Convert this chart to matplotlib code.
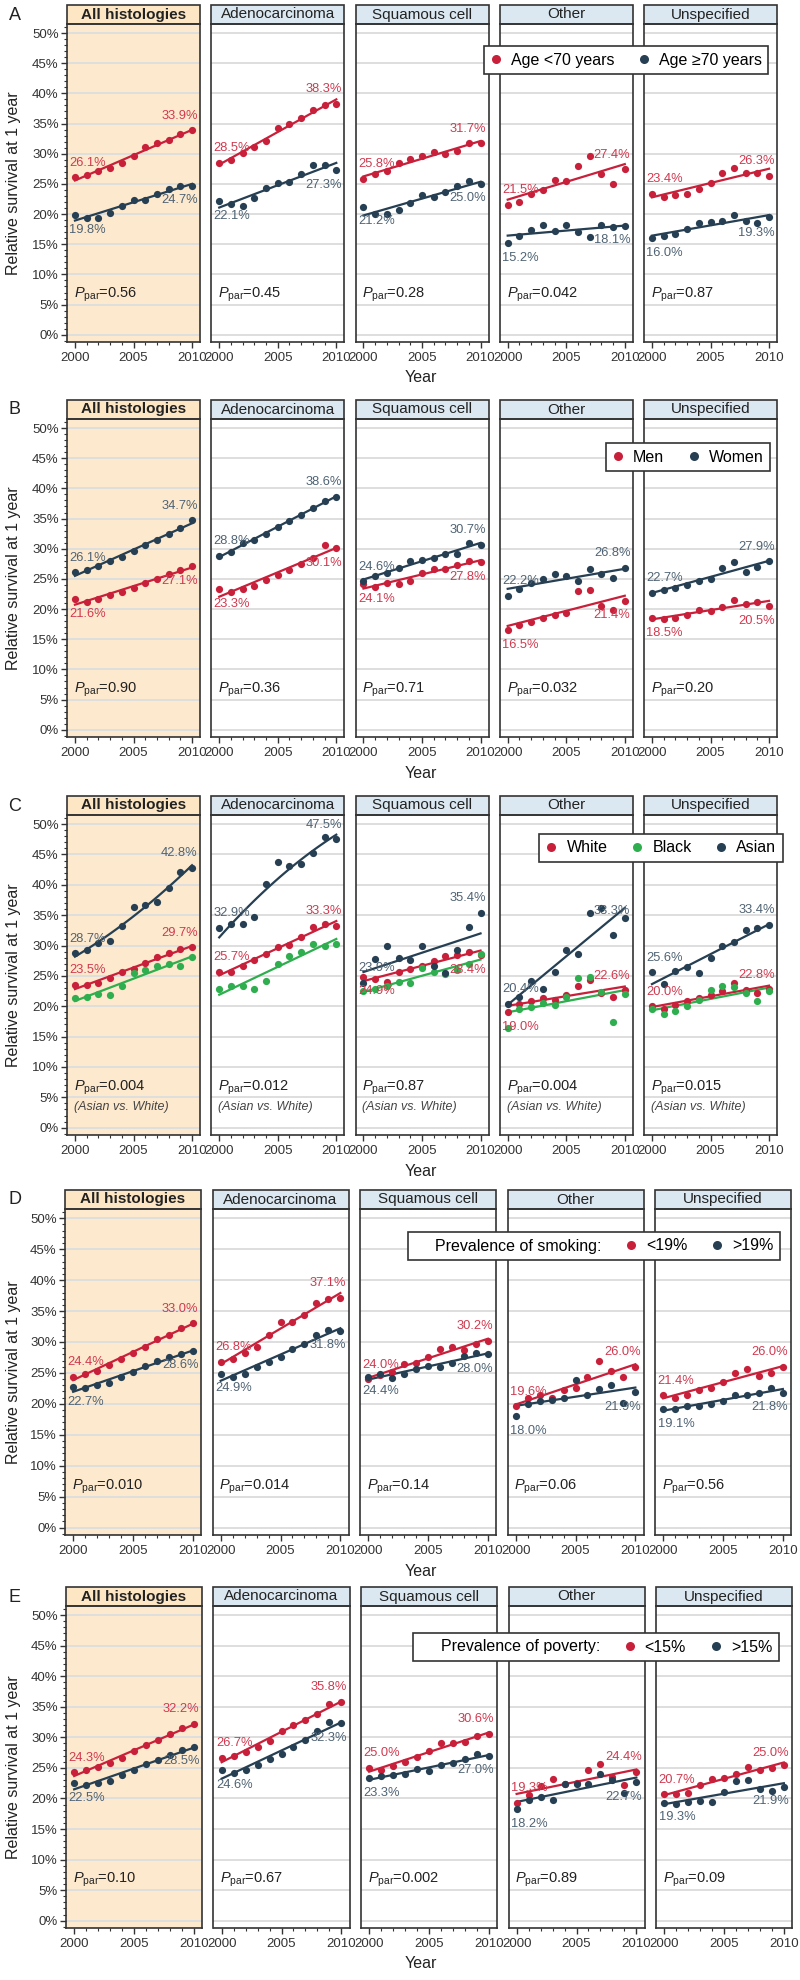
import numpy as np
import matplotlib.pyplot as plt
from matplotlib.patches import Rectangle
from matplotlib.lines import Line2D
from matplotlib.ticker import MultipleLocator

plt.rcParams['font.family'] = ['Liberation Sans', 'DejaVu Sans']
plt.rcParams['mathtext.fontset'] = 'custom'
plt.rcParams['mathtext.rm'] = 'Liberation Sans'
plt.rcParams['mathtext.it'] = 'Liberation Sans:italic'

# ---------------- data ----------------
years = list(range(2000, 2011))
histologies = ["All histologies", "Adenocarcinoma", "Squamous cell", "Other", "Unspecified"]
yticks = [0, 5, 10, 15, 20, 25, 30, 35, 40, 45, 50]
xticks = [2000, 2005, 2010]

# A: age
age_under70 = [
    [26.1, 26.4, 27.1, 27.6, 28.5, 29.6, 31.1, 31.7, 32.2, 33.2, 33.9],
    [28.5, 29.0, 30.2, 31.1, 32.1, 34.2, 35.0, 35.9, 37.2, 38.1, 38.3],
    [25.8, 26.6, 27.1, 28.4, 29.2, 29.6, 30.3, 30.0, 30.4, 31.8, 31.7],
    [21.5, 22.0, 23.4, 24.0, 25.7, 25.4, 28.0, 29.7, 26.6, 25.0, 27.4],
    [23.4, 22.9, 23.2, 23.4, 24.2, 25.1, 26.8, 27.7, 26.8, 26.8, 26.3],
]
age_70plus = [
    [19.8, 19.4, 19.4, 20.2, 21.4, 22.3, 22.3, 23.3, 24.2, 24.6, 24.7],
    [22.1, 21.6, 21.4, 22.6, 24.3, 25.1, 25.3, 26.6, 28.2, 28.1, 27.3],
    [21.2, 20.0, 20.0, 20.6, 21.8, 23.2, 22.8, 23.6, 24.6, 25.4, 25.0],
    [15.2, 16.4, 17.4, 18.2, 17.2, 18.2, 17.0, 16.2, 18.2, 17.8, 18.1],
    [16.0, 16.4, 16.7, 17.5, 18.5, 18.7, 18.9, 19.8, 18.9, 18.5, 19.5],
]
age_under70_lab = [(26.1, 33.9), (28.5, 38.3), (25.8, 31.7), (21.5, 27.4), (23.4, 26.3)]
age_70plus_lab = [(19.8, 24.7), (22.1, 27.3), (21.2, 25.0), (15.2, 18.1), (16.0, 19.3)]
p_age = ["0.56", "0.45", "0.28", "0.042", "0.87"]

# B: sex
men = [
    [21.6, 21.2, 21.7, 22.3, 22.9, 23.5, 24.3, 25.0, 25.8, 26.5, 27.1],
    [23.3, 22.8, 23.4, 23.9, 24.9, 25.6, 26.5, 27.5, 28.4, 30.6, 30.1],
    [24.1, 23.6, 24.3, 24.2, 24.7, 26.0, 26.6, 26.7, 27.3, 27.9, 27.8],
    [16.5, 17.4, 17.9, 18.6, 19.1, 19.4, 23.0, 23.2, 20.5, 19.8, 21.4],
    [18.5, 18.3, 18.6, 19.0, 19.8, 19.6, 20.3, 21.5, 20.8, 21.2, 20.5],
]
women = [
    [26.1, 26.4, 27.2, 28.0, 28.6, 29.6, 30.6, 31.4, 32.4, 33.5, 34.7],
    [28.8, 29.5, 30.9, 31.4, 32.5, 33.6, 34.6, 35.6, 36.8, 37.9, 38.6],
    [24.6, 25.5, 26.0, 26.8, 28.0, 28.1, 28.4, 29.1, 29.2, 30.9, 30.7],
    [22.2, 23.3, 24.4, 25.0, 25.8, 25.5, 24.7, 26.6, 25.8, 25.1, 26.8],
    [22.7, 23.2, 23.5, 24.0, 24.7, 25.0, 26.8, 27.8, 26.2, 26.9, 27.9],
]
men_lab = [(21.6, 27.1), (23.3, 30.1), (24.1, 27.8), (16.5, 21.4), (18.5, 20.5)]
women_lab = [(26.1, 34.7), (28.8, 38.6), (24.6, 30.7), (22.2, 26.8), (22.7, 27.9)]
p_sex = ["0.90", "0.36", "0.71", "0.032", "0.20"]

# C: race
white = [
    [23.5, 23.5, 23.8, 24.6, 25.6, 26.1, 27.1, 28.1, 28.8, 29.4, 29.7],
    [25.7, 25.6, 26.6, 27.6, 28.6, 29.7, 30.1, 31.4, 33.0, 33.6, 33.3],
    [24.9, 24.5, 24.0, 25.6, 26.1, 26.7, 27.5, 28.2, 28.5, 28.9, 28.4],
    [19.0, 20.4, 20.8, 21.3, 21.0, 21.8, 23.4, 24.3, 22.2, 21.5, 22.6],
    [20.0, 19.6, 20.2, 20.9, 21.4, 21.9, 22.5, 23.9, 22.6, 22.2, 22.8],
]
black = [
    [21.4, 21.5, 22.1, 21.9, 23.4, 25.4, 25.9, 26.7, 27.0, 26.6, 28.1],
    [22.8, 23.4, 23.4, 22.9, 24.1, 26.9, 28.3, 29.0, 30.3, 30.0, 30.3],
    [22.5, 22.9, 23.3, 24.0, 23.9, 26.3, 25.7, 25.3, 25.9, 26.9, 28.6],
    [16.4, 19.5, 19.8, 20.6, 20.2, 21.5, 24.6, 24.9, 22.3, 17.4, 22.0],
    [19.5, 18.7, 19.3, 20.0, 21.0, 22.7, 23.3, 23.2, 22.2, 20.9, 22.5],
]
asian = [
    [28.7, 29.2, 30.4, 30.8, 33.2, 36.4, 36.6, 37.2, 39.5, 42.1, 42.8],
    [32.9, 33.5, 33.5, 34.7, 40.1, 43.8, 43.1, 43.4, 45.3, 47.8, 47.5],
    [23.9, 27.8, 30.0, 28.0, 27.6, 30.0, 26.6, 25.5, 29.2, 33.0, 35.4],
    [20.4, 21.6, 24.2, 22.8, 25.7, 29.3, 28.6, 35.4, 36.2, 31.7, 34.6],
    [25.6, 23.7, 25.8, 26.5, 25.5, 28.0, 29.9, 30.6, 32.5, 32.9, 33.4],
]
white_lab = [(23.5, 29.7), (25.7, 33.3), (24.9, 28.4), (19.0, 22.6), (20.0, 22.8)]
asian_lab = [(28.7, 42.8), (32.9, 47.5), (23.9, 35.4), (20.4, 33.3), (25.6, 33.4)]
p_race = ["0.004", "0.012", "0.87", "0.004", "0.015"]

# D: smoking prevalence
smoke_low = [
    [24.4, 24.8, 25.3, 26.3, 27.3, 28.3, 29.2, 30.5, 31.1, 32.2, 33.0],
    [26.8, 27.3, 28.3, 29.2, 31.1, 33.2, 33.2, 34.3, 36.3, 37.0, 37.1],
    [24.0, 24.6, 25.2, 26.5, 26.6, 27.5, 28.8, 29.2, 28.7, 29.7, 30.2],
    [19.6, 20.9, 21.4, 21.0, 22.2, 22.6, 24.3, 26.9, 25.3, 24.4, 26.0],
    [21.4, 21.0, 21.5, 22.3, 22.6, 23.5, 25.0, 25.7, 24.5, 25.0, 26.0],
]
smoke_high = [
    [22.7, 22.6, 23.0, 23.3, 24.4, 25.1, 26.1, 26.9, 27.5, 28.0, 28.6],
    [24.9, 24.4, 24.8, 25.9, 26.7, 27.6, 28.8, 29.7, 31.2, 31.9, 31.8],
    [24.4, 24.8, 24.1, 24.9, 25.6, 26.1, 26.0, 26.6, 27.7, 28.3, 28.0],
    [18.0, 19.9, 20.4, 20.6, 21.0, 23.9, 21.4, 22.4, 23.0, 20.2, 21.9],
    [19.1, 19.2, 19.6, 19.6, 20.0, 20.5, 21.5, 21.5, 21.8, 22.5, 21.8],
]
smoke_low_lab = [(24.4, 33.0), (26.8, 37.1), (24.0, 30.2), (19.6, 26.0), (21.4, 26.0)]
smoke_high_lab = [(22.7, 28.6), (24.9, 31.8), (24.4, 28.0), (18.0, 21.9), (19.1, 21.8)]
p_smoke = ["0.010", "0.014", "0.14", "0.06", "0.56"]

# E: poverty prevalence
pov_low = [
    [24.3, 24.6, 25.2, 25.8, 26.6, 27.8, 28.7, 29.5, 30.6, 31.5, 32.2],
    [26.7, 27.0, 27.6, 28.4, 29.4, 31.0, 32.0, 32.8, 33.9, 35.4, 35.8],
    [25.0, 24.6, 25.3, 26.0, 26.8, 27.7, 29.0, 29.1, 29.2, 30.2, 30.6],
    [19.3, 20.5, 22.0, 23.2, 22.3, 22.5, 24.7, 25.6, 23.5, 22.2, 24.4],
    [20.7, 20.7, 20.9, 22.2, 23.2, 23.4, 24.0, 25.2, 24.7, 25.0, 25.4],
]
pov_high = [
    [22.5, 22.2, 22.6, 22.8, 23.8, 24.7, 25.6, 26.3, 27.1, 27.9, 28.5],
    [24.6, 24.1, 24.6, 25.5, 26.4, 27.3, 28.5, 29.6, 31.0, 32.5, 32.3],
    [23.3, 23.6, 23.9, 24.0, 24.8, 24.5, 25.4, 25.8, 26.4, 27.2, 27.0],
    [18.2, 19.7, 20.3, 19.8, 22.3, 22.4, 22.4, 24.0, 23.0, 20.9, 22.7],
    [19.3, 19.1, 19.5, 19.6, 19.5, 21.0, 22.9, 23.1, 21.5, 21.2, 21.9],
]
pov_low_lab = [(24.3, 32.2), (26.7, 35.8), (25.0, 30.6), (19.3, 24.4), (20.7, 25.0)]
pov_high_lab = [(22.5, 28.5), (24.6, 32.3), (23.3, 27.0), (18.2, 22.7), (19.3, 21.9)]
p_pov = ["0.10", "0.67", "0.002", "0.89", "0.09"]

# ---------------- style ----------------
RED, NAVY, GREEN = '#c8203a', '#263f53', '#2eae4e'
RED_T, NAVY_T = '#d03a50', '#4f6374'
HEAD_BLUE, HEAD_ORANGE, BG_ORANGE = '#dbe8f1', '#fde6c4', '#fde9cd'
EDGE = '#333333'

W_PX, H_PX = 800, 1980
fig = plt.figure(figsize=(W_PX / 100, H_PX / 100), dpi=100)


def fx(x):
    return x / W_PX


def fy(y):
    return 1 - y / H_PX


# series: (values, labels, color, text color, label placement per panel, fit degree per panel)
rows = [
    dict(letter="A", top=5, bottom=342, left=67, width=133, gap=11.25, p=p_age,
         series=[(age_under70, age_under70_lab, RED, RED_T, ["aa"] * 5, [1] * 5),
                 (age_70plus, age_70plus_lab, NAVY, NAVY_T, ["bb"] * 5, [1] * 5)],
         legend=(["Age <70 years", "Age \u226570 years"], [RED, NAVY], None, (626, 60))),
    dict(letter="B", top=400, bottom=737, left=67, width=133, gap=11.25, p=p_sex,
         series=[(men, men_lab, RED, RED_T, ["bb"] * 5, [1] * 5),
                 (women, women_lab, NAVY, NAVY_T, ["aa"] * 5, [1] * 5)],
         legend=(["Men", "Women"], [RED, NAVY], None, (688, 457))),
    dict(letter="C", top=796, bottom=1135, left=67, width=133, gap=11.25, p=p_race,
         series=[(white, white_lab, RED, RED_T, ["aa", "aa", "bb", "ba", "aa"], [1] * 5),
                 (black, None, GREEN, None, None, [1] * 5),
                 (asian, asian_lab, NAVY, NAVY_T, ["aa"] * 5, [2, 2, 1, 1, 1])],
         legend=(["White", "Black", "Asian"], [RED, GREEN, NAVY], None, (661, 848))),
    dict(letter="D", top=1190, bottom=1535, left=65, width=136, gap=11.5, p=p_smoke,
         series=[(smoke_low, smoke_low_lab, RED, RED_T, ["aa"] * 5, [1] * 5),
                 (smoke_high, smoke_high_lab, NAVY, NAVY_T, ["bb"] * 5, [1] * 5)],
         legend=(["<19%", ">19%"], [RED, NAVY], "Prevalence of smoking:", (594, 1246))),
    dict(letter="E", top=1587, bottom=1928, left=66, width=136, gap=11.5, p=p_pov,
         series=[(pov_low, pov_low_lab, RED, RED_T, ["aa"] * 5, [1] * 5),
                 (pov_high, pov_high_lab, NAVY, NAVY_T, ["bb"] * 5, [1] * 5)],
         legend=(["<15%", ">15%"], [RED, NAVY], "Prevalence of poverty:", (596, 1647))),
]

HEAD_H = 19
OFF = 10.5  # label offset in points

for row in rows:
    ax_top = row["top"] + HEAD_H
    ax_h = row["bottom"] - ax_top
    for c in range(5):
        left = row["left"] + c * (row["width"] + row["gap"])
        ax = fig.add_axes([fx(left), fy(row["bottom"]), row["width"] / W_PX, ax_h / H_PX])
        if c == 0:
            ax.set_facecolor(BG_ORANGE)
        ax.set_xlim(1999.32, 2010.68)
        ax.set_ylim(-1.2, 51.5)
        ax.set_yticks(yticks)
        ax.set_axisbelow(True)
        ax.grid(axis='y', color='#dedede', lw=1.4)
        for s in ax.spines.values():
            s.set_color(EDGE)
            s.set_linewidth(1.2)
        ax.set_xticks(xticks)
        ax.xaxis.set_minor_locator(MultipleLocator(1))
        ax.tick_params(axis='x', which='major', length=4, width=1, color=EDGE,
                       labelsize=9.5, labelcolor='#333333', pad=3)
        ax.tick_params(axis='x', which='minor', length=2, width=0.8, color=EDGE)
        if c == 0:
            ax.set_yticklabels([f"{v}%" for v in yticks])
            ax.yaxis.set_minor_locator(MultipleLocator(1))
            ax.tick_params(axis='y', which='major', length=4, width=1, color=EDGE,
                           labelsize=9.5, labelcolor='#333333', pad=2)
            ax.tick_params(axis='y', which='minor', length=2, width=0.8, color=EDGE)
        else:
            ax.tick_params(axis='y', which='both', left=False, labelleft=False)

        # header box
        hh = HEAD_H / ax_h
        ax.add_patch(Rectangle((0, 1), 1, hh, transform=ax.transAxes, clip_on=False,
                               fc=HEAD_ORANGE if c == 0 else HEAD_BLUE, ec=EDGE, lw=1.2))
        ax.text(0.5, 1 + hh / 2, histologies[c], transform=ax.transAxes, ha='center',
                va='center', fontsize=11, color='#222222',
                fontweight='bold' if c == 0 else 'normal')

        # series
        for vals, labs, col, tcol, place, deg in row["series"]:
            v = vals[c]
            coef = np.polyfit(years, v, deg[c])
            xs = np.linspace(2000, 2010, 50)
            ax.plot(xs, np.polyval(coef, xs), color=col, lw=1.6, zorder=3)
            ax.plot(years, v, 'o', color=col, ms=5.2, mec='none', zorder=4)
            if labs is not None:
                s_val, e_val = labs[c]
                ds = OFF if place[c][0] == 'a' else -OFF
                de = OFF if place[c][1] == 'a' else -OFF
                ax.annotate(f"{s_val:.1f}%", (2000, s_val), xytext=(-4, ds),
                            textcoords='offset points', ha='left', va='center',
                            fontsize=9.3, color=tcol, zorder=5)
                ax.annotate(f"{e_val:.1f}%", (2010, e_val), xytext=(4, de),
                            textcoords='offset points', ha='right', va='center',
                            fontsize=9.3, color=tcol, zorder=5)

        ax.text(1999.9, 6.6, r"$P_{\mathrm{par}}$=" + row["p"][c], ha='left', va='center',
                fontsize=10.5, color='#222222')
        if row["letter"] == "C":
            ax.text(1999.9, 3.4, "(Asian vs. White)", ha='left', va='center',
                    fontsize=9, style='italic', color='#444444')

    # row annotations
    fig.text(fx(15), fy(row["top"] + 10), row["letter"], ha='center', va='center',
             fontsize=13, color='#222222')
    fig.text(fx(14), fy((ax_top + row["bottom"]) / 2), "Relative survival at 1 year",
             rotation=90, ha='center', va='center', fontsize=11.5, color='#222222')
    fig.text(fx(421), fy(row["bottom"] + 36), "Year", ha='center', va='center',
             fontsize=11.5, color='#222222')

    # legend
    labels, colors, prefix, (cx, cy) = row["legend"]
    handles = [Line2D([], [], ls='none', marker='o', color=cl, ms=6.5, mec='none')
               for cl in colors]
    if prefix is not None:
        handles = [Line2D([], [], ls='none')] + handles
        labels = [prefix] + labels
    leg = fig.legend(handles, labels, loc='center', bbox_to_anchor=(fx(cx), fy(cy)),
                     ncol=len(labels), frameon=True, fancybox=False, framealpha=1,
                     edgecolor=EDGE, fontsize=11.5, handlelength=0.7, handletextpad=0.6,
                     columnspacing=1.5, borderpad=0.4)
    leg.get_frame().set_linewidth(1.2)

fig.savefig("out.png", dpi=100)
